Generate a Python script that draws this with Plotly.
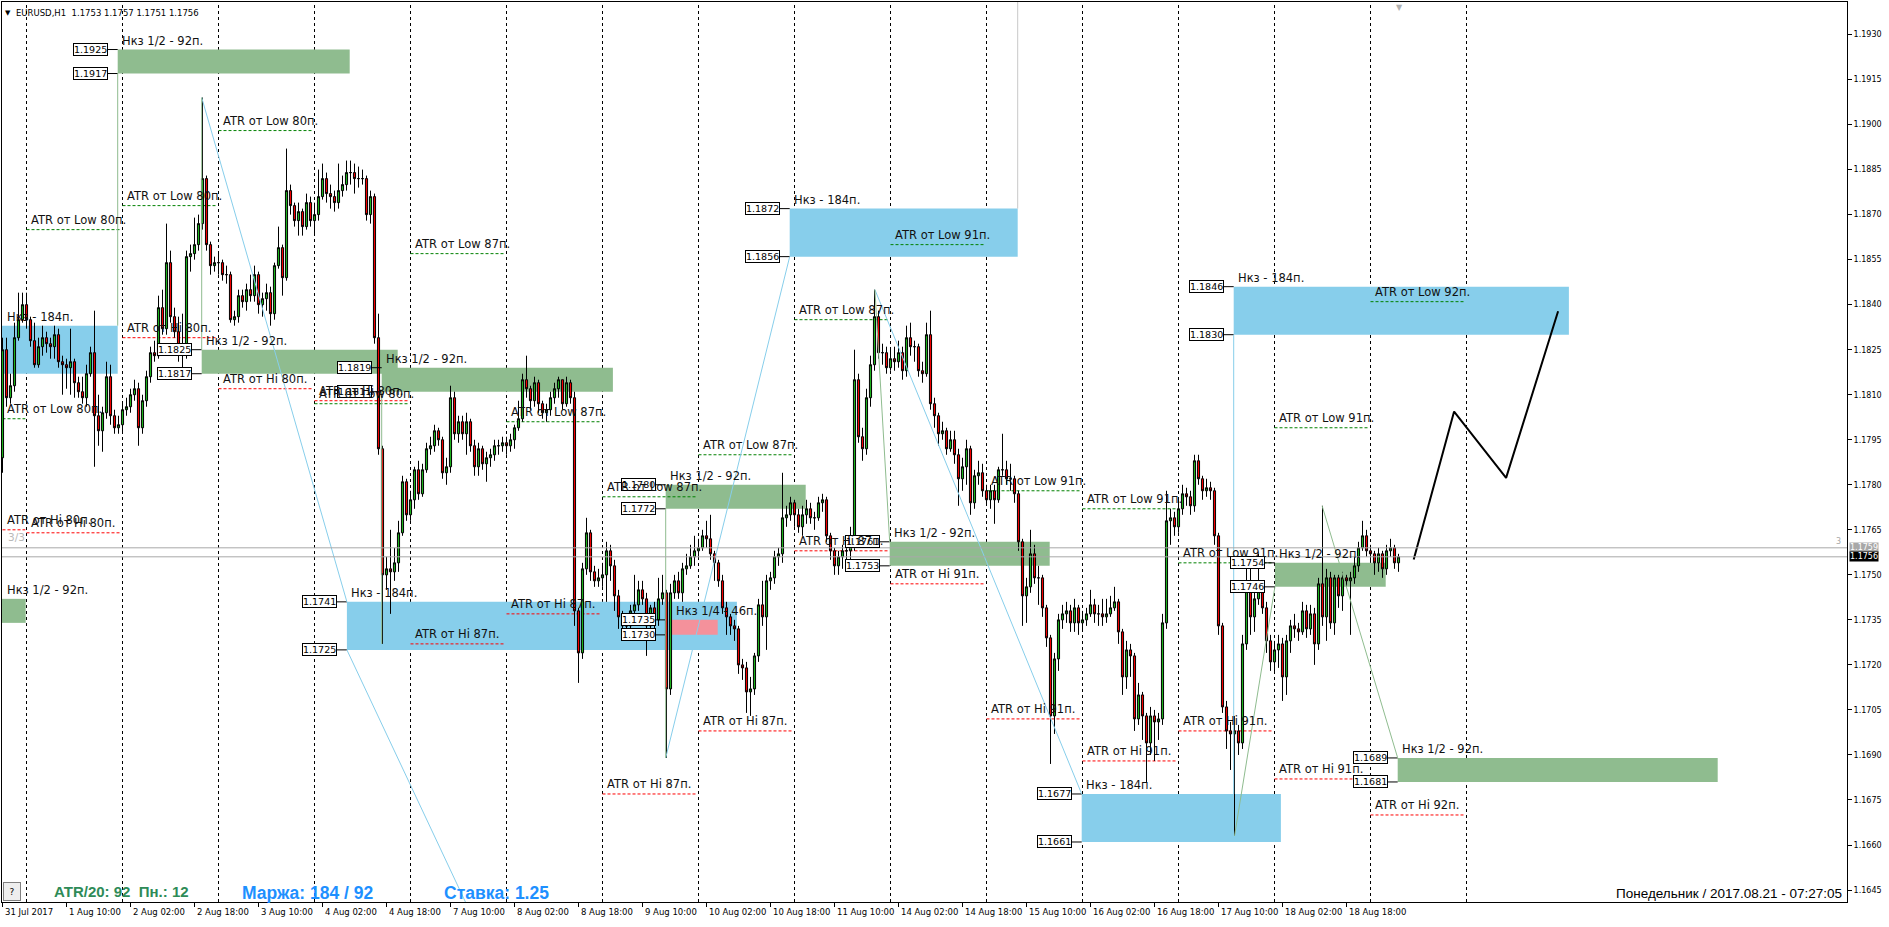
import plotly.graph_objects as go

# ---------------- DATA ----------------
BASE = 1.1600
PIP = 0.0001
first_open = 189  # pips above 1.1600

close_pips = [
 225,209,213,229,235,240,235,228,220,226, 229,227,226,230,221,220,219,221,214,211,
 209,217,224,203,198,204,216,203,199,200, 205,206,210,212,199,208,216,224,223,239,
 232,254,236,231,226,224,256,257,260,267, 282,260,253,254,254,250,250,235,236,243,
 241,245,243,250,240,242,244,237,253,259, 249,278,273,268,271,266,274,268,270,276,
 282,277,276,274,278,280,284,284,282,282, 282,270,276,229,192,150,152,151,154,164,
 181,170,175,185,177,185,192,193,198,195, 184,186,209,197,201,197,201,193,186,192,
 187,189,190,193,193,194,193,195,199,202, 215,212,208,214,207,204,205,209,212,215,
 207,214,209,138,124,152,164,151,148,149, 150,158,153,143,136,133,133,138,140,145,
 142,133,139,135,142,144,112,144,148,144, 152,153,156,158,159,163,162,157,154,148,
 139,136,133,132,120,119,111,112,123,140, 136,148,149,156,157,169,170,174,170,166,
 170,172,169,169,174,175,163,158,153,156, 158,158,160,215,196,192,209,220,236,224,
 224,219,222,221,224,218,229,226,226,218, 217,230,207,203,197,198,192,195,190,182,
 186,192,174,183,184,178,175,178,175,185, 185,182,182,177,161,143,146,157,149,149,
 139,129,103,122,135,137,138,134,139,134, 135,137,140,137,137,136,137,139,141,131,
 116,125,123,102,110,103,94,103,101,102, 134,168,169,166,172,177,176,173,188,182,
 178,179,178,163,133,106,98,97,98,94, 127,145,136,142,145,139,128,121,125,127,
 116,128,133,132,131,138,132,137,127,147, 136,149,134,149,143,149,148,149,153,159,
 163,158,157,154,157,152,158,159,154,156]

high_pips = [
 229,229,217,234,244,244,244,236,234,229, 233,231,229,233,232,223,222,232,222,216,
 216,220,226,238,210,206,221,220,205,203, 207,209,212,215,214,210,218,226,228,243,
 245,267,258,239,236,237,258,260,269,270, 309,283,261,256,257,255,253,251,238,245,
 245,247,250,253,251,244,247,246,254,266, 260,292,280,274,274,272,277,276,274,285,
 287,284,280,278,287,283,288,288,287,286, 285,283,278,277,237,193,156,165,159,168,
 183,182,178,186,188,187,194,196,200,199, 196,189,213,211,203,203,204,202,195,194,
 193,191,192,195,195,196,196,197,200,208, 217,223,213,216,215,208,207,211,214,216,
 215,216,215,211,139,154,169,165,153,152, 154,161,160,155,145,138,135,140,150,148,
 148,144,140,141,149,150,145,147,150,151, 154,157,160,163,162,165,168,170,158,155,
 150,141,137,135,133,122,121,116,124,142, 148,150,151,158,159,184,173,176,175,172,
 173,175,174,171,176,177,176,164,159,158, 160,161,166,225,217,199,212,223,245,238,
 227,226,225,226,228,226,233,234,228,227, 221,234,238,209,204,201,199,198,198,192,
 189,195,193,185,188,187,180,180,180,186, 197,188,187,183,178,162,149,165,160,153,
 150,140,130,124,137,140,141,140,142,140, 138,139,145,142,140,142,142,143,146,142,
 132,128,127,124,114,111,104,106,105,104, 137,178,172,171,175,180,179,178,190,190,
 183,182,181,179,164,134,108,101,103,100, 130,154,156,145,157,147,141,130,128,130,
 129,130,135,137,134,141,140,140,139,149, 173,152,151,150,150,151,150,151,156,161,
 168,165,160,158,159,158,160,162,160,157]

low_pips = [
 184,206,207,211,228,234,232,226,219,219, 223,224,222,222,219,210,212,210,209,209,
 207,206,216,186,193,191,202,200,197,197, 197,203,204,208,193,197,206,214,221,222,
 230,230,234,229,221,218,222,251,255,258, 265,258,250,251,250,248,247,234,233,234,
 239,238,241,241,237,236,238,233,235,252, 243,248,270,266,263,263,265,266,263,268,
 275,274,272,271,272,276,278,280,277,279, 280,268,267,227,190,127,145,137,148,151,
 163,168,168,172,175,176,184,190,191,193, 182,180,184,195,194,195,190,191,183,183,
 185,181,186,188,190,191,190,191,192,198, 201,209,205,206,204,202,201,203,207,209,
 205,206,207,133,114,122,150,148,146,146, 146,141,148,138,132,128,128,128,134,138,
 140,123,130,128,133,140,89,110,142,142, 141,150,152,153,155,158,159,155,148,146,
 137,130,130,128,117,115,104,103,110,121, 133,125,145,147,153,154,166,168,166,164,
 163,167,167,165,168,171,161,155,150,150, 152,155,153,158,194,188,190,206,218,222,
 220,217,218,218,219,215,216,223,221,216, 214,216,205,199,193,195,190,191,187,173,
 178,180,170,172,180,176,173,172,167,174, 183,180,178,174,158,133,134,144,147,140,
 136,126,87,97,118,132,134,131,131,130, 131,133,136,134,133,133,134,136,138,127,
 110,112,116,98,100,95,81,90,88,95, 100,132,160,163,164,170,173,170,171,180,
 175,176,175,160,130,104,92,85,63,90, 92,125,130,131,140,137,124,118,117,119,
 108,110,124,129,128,130,129,130,120,125, 133,128,132,130,139,138,146,130,147,151,
 158,156,154,150,151,149,150,156,152,151]

tick_bars = [0, 16, 32, 48, 64, 80, 96, 112, 128, 144, 160, 176, 192, 208, 224, 240, 256, 272, 288, 304, 320, 336]
tick_labels = ["31 Jul 2017", "1 Aug 10:00", "2 Aug 02:00", "2 Aug 18:00", "3 Aug 10:00", "4 Aug 02:00",
               "4 Aug 18:00", "7 Aug 10:00", "8 Aug 02:00", "8 Aug 18:00", "9 Aug 10:00", "10 Aug 02:00",
               "10 Aug 18:00", "11 Aug 10:00", "14 Aug 02:00", "14 Aug 18:00", "15 Aug 10:00", "16 Aug 02:00",
               "16 Aug 18:00", "17 Aug 10:00", "18 Aug 02:00", "18 Aug 18:00"]

price_ticks = [1.1645, 1.1660, 1.1675, 1.1690, 1.1705, 1.1720, 1.1735, 1.1750, 1.1765, 1.1780,
               1.1795, 1.1810, 1.1825, 1.1840, 1.1855, 1.1870, 1.1885, 1.1900, 1.1915, 1.1930]

day_start = [0, 6, 30, 54, 78, 102, 126, 150, 174, 198, 222, 246, 270, 294, 318, 342]
day_end = [6, 30, 54, 78, 102, 126, 150, 174, 198, 222, 246, 270, 294, 318, 342, 366]
atr_value = [80, 80, 80, 80, 80, 87, 87, 87, 87, 87, 91, 91, 91, 91, 91, 92]
atr_low_level = [1.1802, 1.1865, 1.1873, 1.1898, 1.1807, 1.1857, 1.1801, 1.1776, 1.1790, 1.1835,
                 1.1860, 1.1778, 1.1772, 1.1754, 1.1799, 1.1841]
atr_hi_level = [1.1765, 1.1764, 1.1829, 1.1812, 1.1808, 1.1727, 1.1737, 1.1677, 1.1698, 1.1758,
                1.1747, 1.1702, 1.1688, 1.1698, 1.1682, 1.1670]

zone_x0 = [-1, 28.8, 49.8, 94.8, -1, 86.1, 165.8, 167.3, 196.8, 221.8, 269.8, 307.8, 318.1, 348.8]
zone_x1 = [28.8, 86.8, 98.8, 152.6, 5.8, 183.6, 200.8, 178.8, 253.8, 261.8, 319.6, 391.6, 345.8, 428.8]
zone_lo = [1.1817, 1.1917, 1.1817, 1.1811, 1.1734, 1.1725, 1.1772, 1.1730, 1.1856, 1.1753, 1.1661, 1.1830, 1.1746, 1.1681]
zone_hi = [1.1833, 1.1925, 1.1825, 1.1819, 1.1742, 1.1741, 1.1780, 1.1735, 1.1872, 1.1761, 1.1677, 1.1846, 1.1754, 1.1689]
zone_kind = ['full', 'half', 'half', 'half', 'half', 'full', 'half', 'quarter', 'full', 'half', 'full', 'full', 'half', 'half']
zone_label_x = [0, 28.8, 49.8, 94.8, 0, 86.1, 165.8, 167.3, 196.8, 221.8, 269.8, 307.8, 318.1, 348.8]
zone_box_x = [None, 28.8, 49.8, 94.8, None, 86.1, 165.8, 165.8, 196.8, 221.8, 269.8, 307.8, 318.1, 348.8]

# helper lines of the zone tool: (bar0, price0, bar1, price1, colour kind)
helper_lines = [
    (49.8, 1.1909, 86.1, 1.1741, 'blue'),
    (86.1, 1.1725, 116.8, 1.1638, 'blue'),
    (165.8, 1.1689, 196.8, 1.1856, 'blue'),
    (218.1, 1.1845, 269.8, 1.1677, 'blue'),
    (307.8, 1.1677, 307.8, 1.1830, 'blue'),
    (28.8, 1.1833, 28.8, 1.1917, 'green'),
    (49.8, 1.1825, 49.8, 1.1909, 'green'),
    (94.8, 1.1727, 94.8, 1.1811, 'green'),
    (165.8, 1.1689, 165.8, 1.1772, 'green'),
    (218.1, 1.1845, 221.8, 1.1761, 'green'),
    (308.0, 1.1663, 318.1, 1.1746, 'green'),
    (329.9, 1.1773, 348.8, 1.1689, 'green'),
]

forecast_bars = [352.8, 362.9, 375.9, 388.9]
forecast_prices = [1.17551, 1.18044, 1.17823, 1.18378]

bid_price = 1.1756
ask_price = 1.1759

# ---------------- FIGURE ----------------
W, H = 1889, 927
X_RANGE = [-0.125, 461.125]
Y_RANGE = [1.164101, 1.194083]

bars = list(range(len(close_pips)))
opens = [first_open] + close_pips[:-1]
O = [BASE + v * PIP for v in opens]
C = [BASE + v * PIP for v in close_pips]
Hh = [BASE + max(h, o, c) * PIP for h, o, c in zip(high_pips, opens, close_pips)]
Ll = [BASE + min(l, o, c) * PIP for l, o, c in zip(low_pips, opens, close_pips)]

fig = go.Figure()
fig.add_trace(go.Candlestick(
    x=bars, open=O, high=Hh, low=Ll, close=C,
    increasing=dict(line=dict(color='black', width=1), fillcolor='#1DB11D'),
    decreasing=dict(line=dict(color='black', width=1), fillcolor='#F20000'),
    whiskerwidth=0, hoverinfo='skip', showlegend=False))

fig.add_trace(go.Scatter(x=forecast_bars, y=forecast_prices, mode='lines',
                         line=dict(color='black', width=2), hoverinfo='skip', showlegend=False))

shapes = []
ann = []
TXT = dict(family='DejaVu Sans', size=11.5, color='#111111')
BOXF = dict(family='DejaVu Sans', size=9.5, color='black')

zone_fill = {'full': '#87CEEB', 'half': '#8FBC8F', 'quarter': '#F4919B'}
zone_text = {'full': 'Нкз - 184п.', 'half': 'Нкз 1/2 - 92п.', 'quarter': 'Нкз 1/4 - 46п.'}

for x0, x1, lo, hi, kind, lx, bx in zip(zone_x0, zone_x1, zone_lo, zone_hi, zone_kind, zone_label_x, zone_box_x):
    shapes.append(dict(type='rect', xref='x', yref='y', x0=x0, x1=x1, y0=lo, y1=hi,
                       fillcolor=zone_fill[kind], line=dict(width=0), layer='below'))
    ann.append(dict(x=lx, y=hi, xref='x', yref='y', text=zone_text[kind], showarrow=False,
                    xanchor='left', yanchor='bottom', xshift=2, yshift=0, font=TXT))
    if bx is not None:
        for p in (hi, lo):
            shapes.append(dict(type='line', xref='x', yref='y', xsizemode='pixel', xanchor=bx,
                               x0=-10, x1=0, y0=p, y1=p, line=dict(color='black', width=1)))
            ann.append(dict(x=bx, y=p, xref='x', yref='y', text=f"{p:.4f}", showarrow=False,
                            xanchor='right', yanchor='middle', xshift=-10, font=BOXF,
                            bordercolor='black', borderwidth=1, borderpad=0, bgcolor='white'))

# day separators
for b in day_end:
    shapes.append(dict(type='line', xref='x', yref='paper', x0=b, x1=b, y0=0, y1=1,
                       line=dict(color='black', width=1, dash='3px,3px'), layer='below'))

# ATR day lines
for s, e, v, lo_l, hi_l in zip(day_start, day_end, atr_value, atr_low_level, atr_hi_level):
    shapes.append(dict(type='line', xref='x', yref='y', x0=s, x1=e - 0.3, y0=lo_l, y1=lo_l,
                       line=dict(color='#008000', width=1, dash='3px,2px'), layer='below'))
    shapes.append(dict(type='line', xref='x', yref='y', x0=s, x1=e - 0.3, y0=hi_l, y1=hi_l,
                       line=dict(color='#FF0000', width=1, dash='3px,2px'), layer='below'))
    ann.append(dict(x=s, y=lo_l, xref='x', yref='y', text=f"ATR от Low {v}п.", showarrow=False,
                    xanchor='left', yanchor='bottom', xshift=2, yshift=1, font=TXT))
    ann.append(dict(x=s, y=hi_l, xref='x', yref='y', text=f"ATR от Hi {v}п.", showarrow=False,
                    xanchor='left', yanchor='bottom', xshift=2, yshift=1, font=TXT))

# helper lines
for b0, p0, b1, p1, k in helper_lines:
    shapes.append(dict(type='line', xref='x', yref='y', x0=b0, y0=p0, x1=b1, y1=p1,
                       line=dict(color='#87CEEB' if k == 'blue' else '#8FBC8F', width=1), layer='above'))

# grey vertical line above the upper blue zone
shapes.append(dict(type='line', xref='x', yref='y', x0=253.8, x1=253.8, y0=1.1872, y1=Y_RANGE[1],
                   line=dict(color='#C8C8C8', width=1), layer='below'))

# bid / ask lines
for p in (ask_price, bid_price):
    shapes.append(dict(type='line', xref='paper', yref='y', x0=0, x1=1, y0=p, y1=p,
                       line=dict(color='#A8A8A8', width=1), layer='above'))
ann.append(dict(x=1, y=ask_price, xref='paper', yref='y', text=f"{ask_price:.4f}", showarrow=False,
                xanchor='left', yanchor='middle', xshift=2, font=dict(family='DejaVu Sans', size=8, color='white'),
                bgcolor='#A8A8A8', borderpad=0))
ann.append(dict(x=1, y=bid_price, xref='paper', yref='y', text=f"{bid_price:.4f}", showarrow=False,
                xanchor='left', yanchor='middle', xshift=2, font=dict(family='DejaVu Sans', size=8, color='white'),
                bgcolor='black', borderpad=0))
ann.append(dict(x=1, y=1.1761, xref='paper', yref='y', text="3", showarrow=False, xanchor='right',
                yanchor='middle', xshift=-4, font=dict(family='DejaVu Sans', size=8, color='#A8A8A8')))
ann.append(dict(x=0, y=1.17625, xref='x', yref='y', text="3/3", showarrow=False, xanchor='left',
                yanchor='middle', xshift=3, font=dict(family='DejaVu Sans', size=10.5, color='#B8B8B8')))

# time labels
for b, t in zip(tick_bars, tick_labels):
    ann.append(dict(x=b, y=0, xref='x', yref='paper', text=t, showarrow=False, xanchor='left',
                    yanchor='top', xshift=0, yshift=-3, font=dict(family='DejaVu Sans', size=8.5, color='black')))

# header
ann.append(dict(x=0, y=1, xref='paper', yref='paper', text="▼", showarrow=False, xanchor='left',
                yanchor='top', xshift=1, yshift=-5, font=dict(family='DejaVu Sans', size=7, color='black')))
ann.append(dict(x=0, y=1, xref='paper', yref='paper',
                text="EURUSD,H1\u00a0\u00a01.1753\u00a01.1757\u00a01.1751\u00a01.1756", showarrow=False,
                xanchor='left', yanchor='top', xshift=12, yshift=-4,
                font=dict(family='DejaVu Sans', size=8.5, color='black')))

# bottom texts
ann.append(dict(x=0, y=0, xref='paper', yref='paper', text="ATR/20: 92\u00a0\u00a0Пн.: 12", showarrow=False,
                xanchor='left', yanchor='middle', xshift=50, yshift=11,
                font=dict(family='Liberation Sans', size=15, color='#2E8B57', weight='bold')))
ann.append(dict(x=0, y=0, xref='paper', yref='paper', text="Маржа: 184 / 92", showarrow=False,
                xanchor='left', yanchor='middle', xshift=238, yshift=9,
                font=dict(family='Liberation Sans', size=17.5, color='#1E90FF', weight='bold')))
ann.append(dict(x=0, y=0, xref='paper', yref='paper', text="Ставка: 1.25", showarrow=False,
                xanchor='left', yanchor='middle', xshift=440, yshift=9,
                font=dict(family='Liberation Sans', size=17.5, color='#1E90FF', weight='bold')))
ann.append(dict(x=1, y=0, xref='paper', yref='paper', text="Понедельник / 2017.08.21 - 07:27:05",
                showarrow=False, xanchor='right', yanchor='middle', xshift=-3, yshift=9,
                font=dict(family='Liberation Sans', size=13.5, color='black')))
ann.append(dict(x=0, y=0, xref='paper', yref='paper', text="?", showarrow=False, xanchor='left',
                yanchor='bottom', xshift=1, yshift=1, width=14, height=15,
                font=dict(family='DejaVu Sans', size=9, color='black'),
                bordercolor='#808080', borderwidth=1, bgcolor='#EEEEEE'))
ann.append(dict(x=349.3, y=1, xref='x', yref='paper', text="▼", showarrow=False, xanchor='center',
                yanchor='top', yshift=1, font=dict(family='DejaVu Sans', size=8, color='#B0B0B0')))

fig.update_layout(
    width=W, height=H,
    margin=dict(l=2, r=42, t=2, b=25, autoexpand=False),
    paper_bgcolor='white', plot_bgcolor='white',
    showlegend=False, boxgap=0.25,
    shapes=shapes, annotations=ann,
    xaxis=dict(range=X_RANGE, rangeslider=dict(visible=False), showgrid=False, zeroline=False,
               showline=True, mirror=True, linecolor='black', linewidth=1, automargin=False,
               tickvals=tick_bars, ticks='outside', ticklen=4, tickcolor='black',
               showticklabels=False, fixedrange=True),
    yaxis=dict(range=Y_RANGE, side='right', showgrid=False, zeroline=False, automargin=False,
               showline=True, mirror=True, linecolor='black', linewidth=1,
               tickvals=price_ticks, ticktext=[f"{p:.4f}" for p in price_ticks],
               ticks='outside', ticklen=4, tickcolor='black',
               tickfont=dict(family='DejaVu Sans', size=8, color='black'), fixedrange=True),
)

fig.write_html("out.html", config={'displayModeBar': False},
               post_script="document.body.style.margin='0';document.body.style.overflow='hidden';")
